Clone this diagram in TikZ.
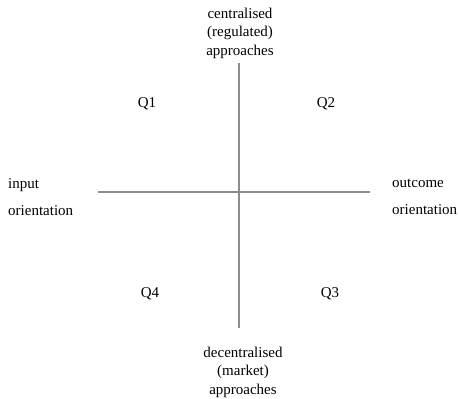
\documentclass[tikz,border=0pt]{standalone}
\usepackage{fontspec}
\setmainfont{Liberation Serif}
\usetikzlibrary{positioning}
\tikzset{
  label text/.style = {inner sep=0pt, align=center, font=\fontsize{15}{18.5}\selectfont},
  axis line/.style = {draw=black!45, line width=1.5pt}
}

\begin{document}
\begin{tikzpicture}[x=1pt, y=-1pt]
        \useasboundingbox (0,0) rectangle (459,399);

        \coordinate (top) at (239,63);
        \coordinate (bottom) at (239,328);
        \coordinate (left) at (98,192);
        \coordinate (right) at (370,192);
        \draw[axis line] (top) -- (bottom);
        \draw[axis line] (left) -- (right);

        \node[label text] (central) at (240,33) {centralised\\(regulated)\\approaches};
        \node[label text] (decentral) at (243,372) {decentralised\\(market)\\approaches};
        \node[label text, anchor=west, align=left] (input) at (8,197) {input\\[8.5pt]orientation};
        \node[label text, anchor=west, align=left] (outcome) at (392,197) {outcome\\[8.5pt]orientation};

        \node[label text] (q1) at (147,104) {Q1};
        \node[label text] (q2) at (326,104) {Q2};
        \node[label text] (q4) at (150,294) {Q4};
        \node[label text] (q3) at (330,294) {Q3};
\end{tikzpicture}
\end{document}
